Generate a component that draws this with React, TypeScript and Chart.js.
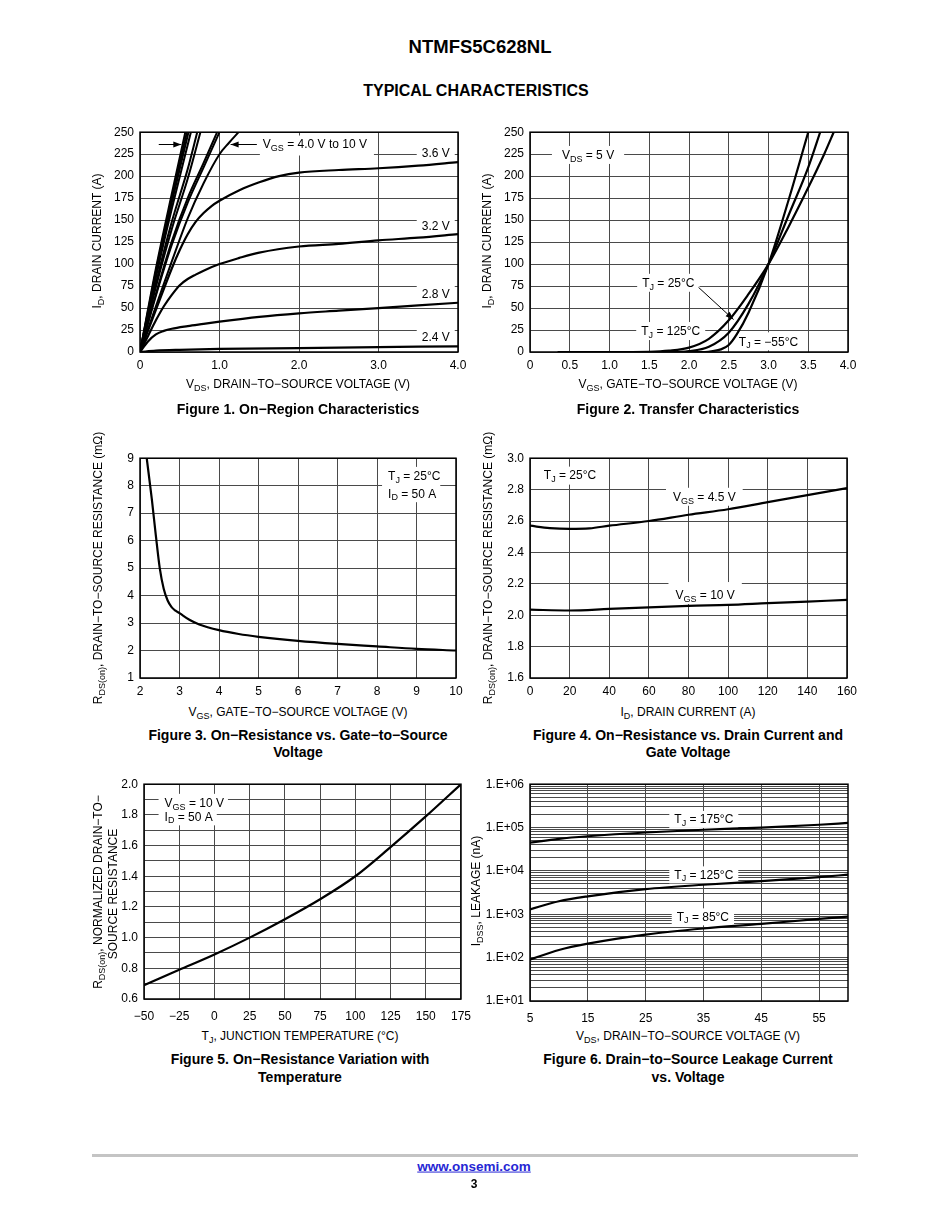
import React, { useEffect, useRef } from "react";
import { Chart, registerables } from "chart.js";

Chart.register(...registerables);

const FONT = '"Liberation Sans", Arial, Helvetica, sans-serif';
Chart.defaults.font.family = FONT;
Chart.defaults.font.size = 12;
Chart.defaults.color = "#000";

type Pt = [number, number];
type Part = [string, boolean?];

// ---------------- Figure 1: On-Region Characteristics ----------------
const fig1XTicks = [0, 1, 2, 3, 4];
const fig1XLabels = ["0", "1.0", "2.0", "3.0", "4.0"];
const fig1YTicks = [0, 25, 50, 75, 100, 125, 150, 175, 200, 225, 250];
const fig1Vgs24: Pt[] = [[0, 0], [0.2, 1.5], [0.5, 2.5], [1, 3.5], [2, 4.5], [3, 5.5], [4, 6.5]];
const fig1Vgs28: Pt[] = [[0, 0], [0.1, 12], [0.2, 20], [0.3, 24], [0.4, 26.5], [0.6, 29.5], [0.8, 32], [1.0, 34.5], [1.5, 40], [2.0, 44], [2.5, 47], [3.0, 50], [3.5, 53], [4.0, 56]];
const fig1Vgs32: Pt[] = [[0, 0], [0.1, 18], [0.2, 36], [0.3, 52], [0.4, 65], [0.5, 76], [0.6, 83], [0.7, 88], [0.8, 92.5], [1.0, 100], [1.25, 107], [1.5, 113], [2.0, 120], [2.5, 123], [3.0, 127], [3.5, 130], [4.0, 134]];
const fig1Vgs36: Pt[] = [[0, 0], [0.2, 48], [0.4, 95], [0.5, 116], [0.6, 134], [0.7, 148], [0.8, 158], [0.9, 166], [1.0, 172], [1.25, 184], [1.5, 193], [1.75, 200], [2.0, 204], [2.5, 207], [3.0, 209], [3.5, 212], [4.0, 216]];
const fig1Vgs40: Pt[] = [[0, 0], [0.2, 52], [0.4, 103], [0.6, 152], [0.8, 192], [1.0, 225], [1.12, 238], [1.24, 250]];
const fig1Vgs45: Pt[] = [[0, 0], [0.2, 64], [0.4, 122], [0.6, 170], [0.8, 210], [1.0, 250]];
const fig1Vgs50: Pt[] = [[0, 0], [0.2, 66], [0.4, 126], [0.6, 175], [0.8, 215], [0.97, 250]];
const fig1Vgs60: Pt[] = [[0, 0], [0.2, 74], [0.4, 140], [0.6, 197], [0.76, 250]];
const fig1Vgs70: Pt[] = [[0, 0], [0.2, 78], [0.4, 148], [0.6, 208], [0.72, 250]];
const fig1Vgs80: Pt[] = [[0, 0], [0.2, 85], [0.4, 163], [0.64, 250]];
const fig1Vgs90: Pt[] = [[0, 0], [0.2, 88], [0.4, 170], [0.61, 250]];
const fig1Vgs95: Pt[] = [[0, 0], [0.2, 92], [0.4, 175], [0.59, 250]];
const fig1Vgs100: Pt[] = [[0, 0], [0.2, 95], [0.4, 180], [0.57, 250]];

// ---------------- Figure 2: Transfer Characteristics ----------------
const fig2XTicks = [0, 0.5, 1, 1.5, 2, 2.5, 3, 3.5, 4];
const fig2XLabels = ["0", "0.5", "1.0", "1.5", "2.0", "2.5", "3.0", "3.5", "4.0"];
const fig2YTicks = [0, 25, 50, 75, 100, 125, 150, 175, 200, 225, 250];
const fig2Tj125: Pt[] = [[0.35, 0], [1.0, 0], [1.5, 0.3], [1.75, 1.5], [2.0, 5], [2.25, 15], [2.5, 36], [2.75, 66], [3.0, 100], [3.25, 142], [3.5, 187], [3.7, 225], [3.82, 250]];
const fig2Tj25: Pt[] = [[0.35, 0], [1.75, 0], [2.0, 1], [2.25, 6], [2.5, 22], [2.75, 55], [3.0, 100], [3.25, 155], [3.5, 210], [3.65, 250]];
const fig2TjM55: Pt[] = [[0.35, 0], [2.2, 0], [2.3, 1], [2.4, 3], [2.5, 8], [2.6, 20], [2.75, 45], [3.0, 100], [3.25, 172], [3.5, 250]];

// ---------------- Figure 3: RDS(on) vs VGS ----------------
const fig3XTicks = [2, 3, 4, 5, 6, 7, 8, 9, 10];
const fig3XLabels = ["2", "3", "4", "5", "6", "7", "8", "9", "10"];
const fig3YTicks = [1, 2, 3, 4, 5, 6, 7, 8, 9];
const fig3YLabels = ["1", "2", "3", "4", "5", "6", "7", "8", "9"];
const fig3Rds: Pt[] = [[2.17, 9], [2.3, 7.5], [2.4, 6.2], [2.5, 5.0], [2.6, 4.25], [2.7, 3.82], [2.8, 3.58], [2.9, 3.45], [3, 3.36], [3.25, 3.12], [3.5, 2.95], [4, 2.74], [4.5, 2.6], [5, 2.5], [6, 2.35], [7, 2.24], [8, 2.15], [9, 2.06], [10, 2.0]];

// ---------------- Figure 4: RDS(on) vs ID ----------------
const fig4XTicks = [0, 20, 40, 60, 80, 100, 120, 140, 160];
const fig4XLabels = ["0", "20", "40", "60", "80", "100", "120", "140", "160"];
const fig4YTicks = [1.6, 1.8, 2.0, 2.2, 2.4, 2.6, 2.8, 3.0];
const fig4YLabels = ["1.6", "1.8", "2.0", "2.2", "2.4", "2.6", "2.8", "3.0"];
const fig4Vgs45: Pt[] = [[0, 2.57], [10, 2.555], [20, 2.55], [30, 2.553], [40, 2.57], [60, 2.6], [80, 2.64], [100, 2.675], [120, 2.72], [140, 2.765], [160, 2.81]];
const fig4Vgs10: Pt[] = [[0, 2.035], [20, 2.03], [40, 2.04], [60, 2.05], [80, 2.06], [100, 2.066], [120, 2.077], [140, 2.087], [160, 2.097]];

// ---------------- Figure 5: RDS(on) vs Temperature ----------------
const fig5XTicks = [-50, -25, 0, 25, 50, 75, 100, 125, 150, 175];
const fig5XLabels = ["\u221250", "\u221225", "0", "25", "50", "75", "100", "125", "150", "175"];
const fig5YTicks = [0.6, 0.7, 0.8, 0.9, 1.0, 1.1, 1.2, 1.3, 1.4, 1.5, 1.6, 1.7, 1.8, 1.9, 2.0];
const fig5YLabels = ["0.6", "", "0.8", "", "1.0", "", "1.2", "", "1.4", "", "1.6", "", "1.8", "", "2.0"];
const fig5Rnorm: Pt[] = [[-50, 0.69], [-25, 0.79], [0, 0.89], [25, 1.0], [50, 1.12], [75, 1.25], [100, 1.4], [125, 1.59], [150, 1.79], [175, 2.0]];

// ---------------- Figure 6: IDSS vs VDS ----------------
const fig6XTicks = [5, 15, 25, 35, 45, 55];
const fig6XLabels = ["5", "15", "25", "35", "45", "55"];
const fig6Decades = [10, 100, 1000, 10000, 100000, 1000000];
const fig6DecadeLabels = ["1.E+01", "1.E+02", "1.E+03", "1.E+04", "1.E+05", "1.E+06"];
const fig6Minor = [1, 2, 3, 4, 5, 6, 7, 8, 9];
const fig6Tj175: Pt[] = [[5, 45000], [10, 55000], [15, 63000], [25, 77000], [35, 89000], [45, 100000], [55, 116000], [60, 128000]];
const fig6Tj125: Pt[] = [[5, 1300], [10, 2000], [15, 2600], [25, 3800], [35, 4800], [45, 5800], [55, 7200], [60, 8200]];
const fig6Tj85: Pt[] = [[5, 90], [10, 150], [15, 210], [25, 340], [35, 470], [45, 600], [55, 780], [60, 880]];
const fig6YTicks = fig6Decades.slice(0, -1).flatMap((d) => fig6Minor.map((m) => m * d)).concat([fig6Decades[fig6Decades.length - 1]]);

// ---------------- chart machinery ----------------
interface Note { x: number; y: number; parts: Part[]; align?: "left" | "center"; bg?: boolean; pad?: [number, number]; box?: [number, number]; }
interface Arrow { from: Pt; to: Pt; }
interface Spec {
  plot: { L: number; T: number; R: number; B: number };
  xMin: number; xMax: number; xTicks: number[]; xLabel: (v: number, i: number) => string; xPad: number;
  yType?: "linear" | "logarithmic";
  yMin: number; yMax: number; yTicks: number[]; yLabel: (v: number, i: number) => string;
  series: Pt[][];
  widths?: number[];
  notes: Note[];
  arrows: Arrow[];
}

const PAD_L = 4, AXIS_W = 45, PAD_T = 10, PAD_R = 18, AXIS_H = 24, PAD_B = 2;

function measureParts(ctx: CanvasRenderingContext2D, parts: Part[], size: number) {
  let w = 0;
  for (const p of parts) {
    ctx.font = `${p[1] ? size * 0.75 : size}px ${FONT}`;
    w += ctx.measureText(p[0]).width;
  }
  return w;
}

function drawParts(ctx: CanvasRenderingContext2D, parts: Part[], x: number, y: number, size: number) {
  let sx = x;
  ctx.textBaseline = "middle";
  ctx.textAlign = "left";
  ctx.fillStyle = "#000";
  for (const p of parts) {
    const s = p[1] ? size * 0.75 : size;
    ctx.font = `${s}px ${FONT}`;
    ctx.fillText(p[0], sx, p[1] ? y + size * 0.3 : y);
    sx += ctx.measureText(p[0]).width;
  }
}

function drawArrow(ctx: CanvasRenderingContext2D, x1: number, y1: number, x2: number, y2: number) {
  ctx.strokeStyle = "#000";
  ctx.fillStyle = "#000";
  ctx.lineWidth = 1;
  ctx.beginPath();
  ctx.moveTo(x1, y1);
  ctx.lineTo(x2, y2);
  ctx.stroke();
  const a = Math.atan2(y2 - y1, x2 - x1);
  const L = 8, W = 3;
  ctx.beginPath();
  ctx.moveTo(x2, y2);
  ctx.lineTo(x2 - L * Math.cos(a) + W * Math.sin(a), y2 - L * Math.sin(a) - W * Math.cos(a));
  ctx.lineTo(x2 - L * Math.cos(a) - W * Math.sin(a), y2 - L * Math.sin(a) + W * Math.cos(a));
  ctx.closePath();
  ctx.fill();
}

function makePlugin(spec: Spec) {
  return {
    id: "notes",
    beforeDatasetsDraw(chart: any) {
      const ctx: CanvasRenderingContext2D = chart.ctx;
      const xs = chart.scales.x, ys = chart.scales.y;
      ctx.save();
      const size = 12;
      for (const n of spec.notes) {
        const px = xs.getPixelForValue(n.x);
        const py = ys.getPixelForValue(n.y);
        const w = measureParts(ctx, n.parts, size);
        const left = n.align === "left" ? px : px - w / 2;
        if (n.bg !== false) {
          const pad = n.pad || [5, 5];
          const box = n.box || [10, 8];
          ctx.fillStyle = "#fff";
          ctx.fillRect(left - pad[0], py - box[0], w + pad[0] + pad[1], box[0] + box[1]);
        }
        drawParts(ctx, n.parts, left, py, size);
      }
      for (const a of spec.arrows) {
        drawArrow(ctx, xs.getPixelForValue(a.from[0]), ys.getPixelForValue(a.from[1]), xs.getPixelForValue(a.to[0]), ys.getPixelForValue(a.to[1]));
      }
      ctx.restore();
    },
    afterDatasetsDraw(chart: any) {
      const ctx: CanvasRenderingContext2D = chart.ctx;
      const ca = chart.chartArea;
      ctx.save();
      ctx.strokeStyle = "#000";
      ctx.lineWidth = 1.5;
      ctx.strokeRect(ca.left, ca.top, ca.right - ca.left, ca.bottom - ca.top);
      ctx.restore();
    },
  };
}

function buildConfig(spec: Spec): any {
  return {
    type: "line",
    data: {
      datasets: spec.series.map((s, i) => ({
        data: s.map(([x, y]) => ({ x, y })),
        borderColor: "#000",
        borderWidth: spec.widths ? spec.widths[i] : 2.2,
        pointRadius: 0,
        fill: false,
        cubicInterpolationMode: "monotone",
      })),
    },
    options: {
      animation: false,
      responsive: false,
      events: [],
      layout: { padding: { left: PAD_L, top: PAD_T, right: PAD_R, bottom: PAD_B } },
      plugins: { legend: { display: false }, tooltip: { enabled: false } },
      scales: {
        x: {
          type: "linear",
          min: spec.xMin,
          max: spec.xMax,
          afterBuildTicks: (s: any) => { s.ticks = spec.xTicks.map((v) => ({ value: v })); },
          afterFit: (s: any) => { s.height = AXIS_H; },
          grid: { color: "#4a4a4a", lineWidth: 1, drawTicks: false },
          border: { display: false },
          ticks: { autoSkip: false, maxRotation: 0, padding: spec.xPad, color: "#000", font: { size: 12 }, callback: (v: number, i: number) => spec.xLabel(v, i) },
        },
        y: {
          type: spec.yType || "linear",
          min: spec.yMin,
          max: spec.yMax,
          afterBuildTicks: (s: any) => { s.ticks = spec.yTicks.map((v) => ({ value: v })); },
          afterFit: (s: any) => { s.width = AXIS_W; },
          grid: { color: "#4a4a4a", lineWidth: 1, drawTicks: false },
          border: { display: false },
          ticks: { autoSkip: false, padding: 6, color: "#000", font: { size: 12 }, callback: (v: number, i: number) => spec.yLabel(v, i) },
        },
      },
    },
    plugins: [makePlugin(spec)],
  };
}

function ChartBox({ spec }: { spec: Spec }) {
  const ref = useRef<HTMLCanvasElement>(null);
  useEffect(() => {
    const chart = new Chart(ref.current as HTMLCanvasElement, buildConfig(spec));
    return () => chart.destroy();
  }, []);
  const { L, T, R, B } = spec.plot;
  const w = PAD_L + AXIS_W + (R - L) + PAD_R;
  const h = PAD_T + (B - T) + AXIS_H + PAD_B;
  return (
    <canvas
      ref={ref}
      width={w}
      height={h}
      style={{ position: "absolute", left: L - AXIS_W - PAD_L, top: T - PAD_T, width: w, height: h }}
    />
  );
}

const V: Part = ["V"];
const I: Part = ["I"];
const T_: Part = ["T"];

const specs: Spec[] = [
  {
    plot: { L: 140, T: 129, R: 458, B: 352 },
    xMin: 0, xMax: 4, xTicks: fig1XTicks, xLabel: (_v, i) => fig1XLabels[i], xPad: 6,
    yMin: 0, yMax: 250, yTicks: fig1YTicks, yLabel: (v) => String(v),
    series: [fig1Vgs24, fig1Vgs28, fig1Vgs32, fig1Vgs36, fig1Vgs40, fig1Vgs45, fig1Vgs50, fig1Vgs60, fig1Vgs70, fig1Vgs80, fig1Vgs90, fig1Vgs95, fig1Vgs100],
    widths: [2.2, 2.2, 2.2, 2.2, 2, 2, 2, 2, 2, 2, 2, 2, 2],
    notes: [
      { x: 2.2, y: 236, parts: [V, ["GS", true], [" = 4.0 V to 10 V"]], pad: [3, 7], box: [9, 11] },
      { x: 3.72, y: 225, parts: [["3.6 V"]] },
      { x: 3.72, y: 142, parts: [["3.2 V"]] },
      { x: 3.72, y: 65, parts: [["2.8 V"]] },
      { x: 3.72, y: 16, parts: [["2.4 V"]] },
    ],
    arrows: [
      { from: [0.236, 236], to: [0.52, 236] },
      { from: [1.47, 236], to: [1.14, 236] },
    ],
  },
  {
    plot: { L: 530, T: 129, R: 848, B: 352 },
    xMin: 0, xMax: 4, xTicks: fig2XTicks, xLabel: (_v, i) => fig2XLabels[i], xPad: 6,
    yMin: 0, yMax: 250, yTicks: fig2YTicks, yLabel: (v) => String(v),
    series: [fig2Tj125, fig2Tj25, fig2TjM55],
    notes: [
      { x: 0.73, y: 223, parts: [V, ["DS", true], [" = 5 V"]], pad: [10, 10] },
      { x: 1.74, y: 77.6, parts: [T_, ["J", true], [" = 25\u00b0C"]] },
      { x: 1.77, y: 22.7, parts: [T_, ["J", true], [" = 125\u00b0C"]] },
      { x: 3.0, y: 11, parts: [T_, ["J", true], [" = \u221255\u00b0C"]] },
    ],
    arrows: [{ from: [2.12, 73.5], to: [2.56, 37] }],
  },
  {
    plot: { L: 140, T: 455, R: 456, B: 678 },
    xMin: 2, xMax: 10, xTicks: fig3XTicks, xLabel: (_v, i) => fig3XLabels[i], xPad: 6,
    yMin: 1, yMax: 9, yTicks: fig3YTicks, yLabel: (_v, i) => fig3YLabels[i],
    series: [fig3Rds],
    notes: [
      { x: 8.28, y: 8.32, parts: [T_, ["J", true], [" = 25\u00b0C"]], align: "left", pad: [6, 4] },
      { x: 8.28, y: 7.69, parts: [I, ["D", true], [" = 50 A"]], align: "left", pad: [6, 4] },
    ],
    arrows: [],
  },
  {
    plot: { L: 530, T: 455, R: 847, B: 678 },
    xMin: 0, xMax: 160, xTicks: fig4XTicks, xLabel: (_v, i) => fig4XLabels[i], xPad: 6,
    yMin: 1.6, yMax: 3.0, yTicks: fig4YTicks, yLabel: (_v, i) => fig4YLabels[i],
    series: [fig4Vgs45, fig4Vgs10],
    notes: [
      { x: 7, y: 2.889, parts: [T_, ["J", true], [" = 25\u00b0C"]], align: "left", pad: [3, 3], box: [9, 9] },
      { x: 88, y: 2.748, parts: [V, ["GS", true], [" = 4.5 V"]], pad: [7, 7] },
      { x: 88.4, y: 2.122, parts: [V, ["GS", true], [" = 10 V"]], pad: [7, 7], box: [14, 8] },
    ],
    arrows: [],
  },
  {
    plot: { L: 144, T: 781, R: 463, B: 999 },
    xMin: -50, xMax: 175, xTicks: fig5XTicks, xLabel: (_v, i) => fig5XLabels[i], xPad: 10,
    yMin: 0.6, yMax: 2.0, yTicks: fig5YTicks, yLabel: (_v, i) => fig5YLabels[i],
    series: [fig5Rnorm],
    notes: [
      { x: -35.4, y: 1.872, parts: [V, ["GS", true], [" = 10 V"]], align: "left", pad: [6, 4], box: [10, 7] },
      { x: -35.4, y: 1.784, parts: [I, ["D", true], [" = 50 A"]], align: "left", pad: [6, 4], box: [7, 8] },
    ],
    arrows: [],
  },
  {
    plot: { L: 530, T: 781, R: 848, B: 1001 },
    xMin: 5, xMax: 60, xTicks: fig6XTicks, xLabel: (_v, i) => fig6XLabels[i], xPad: 10,
    yType: "logarithmic",
    yMin: 10, yMax: 1000000, yTicks: fig6YTicks,
    yLabel: (v) => { const k = fig6Decades.indexOf(v); return k >= 0 ? fig6DecadeLabels[k] : ""; },
    series: [fig6Tj175, fig6Tj125, fig6Tj85],
    notes: [
      { x: 35.06, y: 150000, parts: [T_, ["J", true], [" = 175\u00b0C"]], box: [9, 8] },
      { x: 35.06, y: 7900, parts: [T_, ["J", true], [" = 125\u00b0C"]], box: [9, 8] },
      { x: 34.9, y: 850, parts: [T_, ["J", true], [" = 85\u00b0C"]], box: [9, 8] },
    ],
    arrows: [],
  },
];

// ---------------- HTML text helpers ----------------
function Rich({ parts }: { parts: Part[] }) {
  return (
    <>
      {parts.map((p, i) =>
        p[1] ? (
          <span key={i} style={{ fontSize: "75%", position: "relative", top: "0.3em" }}>{p[0]}</span>
        ) : (
          <span key={i}>{p[0]}</span>
        )
      )}
    </>
  );
}

function Txt({ cx, cy, size = 12, bold = false, rotate = false, children }: any) {
  return (
    <div
      style={{
        position: "absolute",
        left: cx,
        top: cy,
        transform: rotate ? "translate(-50%, -50%) rotate(-90deg)" : "translate(-50%, -50%)",
        whiteSpace: "nowrap",
        fontSize: size,
        fontWeight: bold ? "bold" : "normal",
        lineHeight: 1.25,
        textAlign: "center",
      }}
    >
      {children}
    </div>
  );
}

const DASH = "\u2212";

export default function App() {
  return (
    <div style={{ position: "absolute", left: 0, top: 0, width: 950, height: 1230, background: "#fff", fontFamily: FONT, color: "#000" }}>
      <Txt cx={480} cy={47} size={18.5} bold>NTMFS5C628NL</Txt>
      <Txt cx={476} cy={91} size={16} bold>TYPICAL CHARACTERISTICS</Txt>

      {specs.map((s, i) => <ChartBox key={i} spec={s} />)}

      {/* Figure 1 */}
      <Txt cx={97} cy={241} rotate><Rich parts={[I, ["D", true], [", DRAIN CURRENT (A)"]]} /></Txt>
      <Txt cx={298} cy={384}><Rich parts={[V, ["DS", true], [`, DRAIN${DASH}TO${DASH}SOURCE VOLTAGE (V)`]]} /></Txt>
      <Txt cx={298} cy={410} size={14} bold>{`Figure 1. On${DASH}Region Characteristics`}</Txt>

      {/* Figure 2 */}
      <Txt cx={487} cy={241} rotate><Rich parts={[I, ["D", true], [", DRAIN CURRENT (A)"]]} /></Txt>
      <Txt cx={688} cy={384}><Rich parts={[V, ["GS", true], [`, GATE${DASH}TO${DASH}SOURCE VOLTAGE (V)`]]} /></Txt>
      <Txt cx={688} cy={410} size={14} bold>Figure 2. Transfer Characteristics</Txt>

      {/* Figure 3 */}
      <Txt cx={98} cy={568} rotate><Rich parts={[["R"], ["DS(on)", true], [`, DRAIN${DASH}TO${DASH}SOURCE RESISTANCE (m\u03a9)`]]} /></Txt>
      <Txt cx={298} cy={712}><Rich parts={[V, ["GS", true], [`, GATE${DASH}TO${DASH}SOURCE VOLTAGE (V)`]]} /></Txt>
      <Txt cx={298} cy={743.5} size={14} bold>{`Figure 3. On${DASH}Resistance vs. Gate${DASH}to${DASH}Source`}<br />Voltage</Txt>

      {/* Figure 4 */}
      <Txt cx={488} cy={568} rotate><Rich parts={[["R"], ["DS(on)", true], [`, DRAIN${DASH}TO${DASH}SOURCE RESISTANCE (m\u03a9)`]]} /></Txt>
      <Txt cx={688} cy={712}><Rich parts={[I, ["D", true], [", DRAIN CURRENT (A)"]]} /></Txt>
      <Txt cx={688} cy={743.5} size={14} bold>{`Figure 4. On${DASH}Resistance vs. Drain Current and`}<br />Gate Voltage</Txt>

      {/* Figure 5 */}
      <Txt cx={98} cy={892} rotate><Rich parts={[["R"], ["DS(on)", true], [`, NORMALIZED DRAIN${DASH}TO${DASH}`]]} /></Txt>
      <Txt cx={112.5} cy={894} rotate>SOURCE RESISTANCE</Txt>
      <Txt cx={300} cy={1036}><Rich parts={[T_, ["J", true], [", JUNCTION TEMPERATURE (\u00b0C)"]]} /></Txt>
      <Txt cx={300} cy={1068} size={14} bold>{`Figure 5. On${DASH}Resistance Variation with`}<br />Temperature</Txt>

      {/* Figure 6 */}
      <Txt cx={476} cy={891} rotate><Rich parts={[I, ["DSS", true], [", LEAKAGE (nA)"]]} /></Txt>
      <Txt cx={688} cy={1036}><Rich parts={[V, ["DS", true], [`, DRAIN${DASH}TO${DASH}SOURCE VOLTAGE (V)`]]} /></Txt>
      <Txt cx={688} cy={1068} size={14} bold>{`Figure 6. Drain${DASH}to${DASH}Source Leakage Current`}<br />vs. Voltage</Txt>

      {/* Footer */}
      <div style={{ position: "absolute", left: 92, top: 1154, width: 766, height: 3, background: "#c4c4c4" }} />
      <Txt cx={474} cy={1167} size={13.5} bold>
        <a href="http://www.onsemi.com" style={{ color: "#2626d4", textDecoration: "underline" }}>www.onsemi.com</a>
      </Txt>
      <Txt cx={474} cy={1184} size={12} bold>3</Txt>
    </div>
  );
}
